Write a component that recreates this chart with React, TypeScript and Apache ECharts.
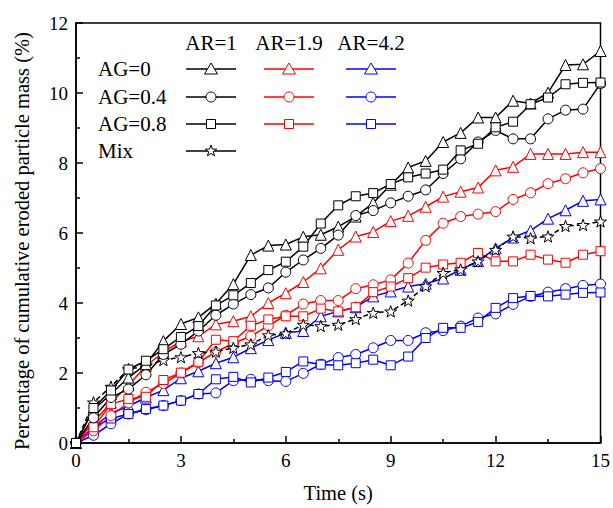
import React, { useEffect, useRef } from "react";
import * as echarts from "echarts";

const time = [0, 0.5, 1, 1.5, 2, 2.5, 3, 3.5, 4, 4.5, 5, 5.5, 6, 6.5, 7, 7.5, 8, 8.5, 9, 9.5, 10, 10.5, 11, 11.5, 12, 12.5, 13, 13.5, 14, 14.5, 15];

const ar1ag0 = [0, 0.95, 1.40, 1.87, 2.25, 2.91, 3.40, 3.59, 3.98, 4.54, 5.37, 5.64, 5.67, 5.89, 5.95, 6.18, 6.47, 6.86, 7.38, 7.87, 8.06, 8.60, 8.86, 9.30, 9.30, 9.78, 9.70, 10.01, 10.80, 10.82, 11.20];
const ar1ag04 = [0, 0.72, 1.30, 1.54, 1.95, 2.53, 2.82, 3.20, 3.65, 3.97, 4.24, 4.43, 4.88, 5.23, 5.56, 5.94, 6.50, 6.64, 6.86, 7.05, 7.23, 7.70, 8.12, 8.60, 8.93, 8.69, 8.69, 9.26, 9.51, 9.54, 10.27];
const ar1ag08 = [0, 1.0, 1.5, 2.1, 2.35, 2.68, 3.03, 3.34, 3.93, 4.22, 4.57, 4.94, 5.18, 5.61, 6.27, 6.79, 7.05, 7.14, 7.40, 7.59, 7.70, 7.81, 8.36, 8.55, 9.02, 9.18, 9.68, 9.87, 10.25, 10.29, 10.30];
const mix = [0, 1.16, 1.61, 2.11, 2.20, 2.37, 2.45, 2.57, 2.61, 2.72, 2.82, 3.08, 3.13, 3.38, 3.34, 3.38, 3.54, 3.72, 3.76, 4.07, 4.48, 4.86, 4.96, 5.19, 5.52, 5.90, 5.85, 5.90, 6.20, 6.23, 6.33];
const ar19ag0 = [0, 0.6, 1.15, 1.65, 2.2, 2.6, 2.9, 3.05, 3.39, 3.48, 3.62, 4.00, 4.28, 4.60, 4.99, 5.52, 5.90, 6.03, 6.34, 6.49, 6.75, 7.04, 7.18, 7.30, 7.79, 7.89, 8.26, 8.26, 8.26, 8.31, 8.31];
const ar19ag04 = [0, 0.35, 0.78, 1.15, 1.45, 1.7, 2.0, 2.3, 2.6, 2.85, 3.05, 3.35, 3.65, 3.97, 4.07, 4.07, 4.41, 4.52, 4.66, 5.14, 5.79, 6.28, 6.47, 6.54, 6.61, 6.96, 7.15, 7.41, 7.55, 7.72, 7.84];
const ar19ag08 = [0, 0.45, 1.11, 1.26, 1.32, 1.80, 2.01, 2.32, 2.95, 2.91, 3.35, 3.53, 3.62, 3.62, 3.84, 3.76, 3.88, 4.31, 4.47, 4.71, 5.01, 5.10, 5.15, 5.43, 5.19, 5.19, 5.38, 5.24, 5.15, 5.38, 5.48];
const ar42ag0 = [0, 0.45, 0.85, 1.05, 1.30, 1.51, 1.85, 2.05, 2.28, 2.45, 2.71, 2.94, 3.15, 3.20, 3.62, 3.76, 3.88, 4.19, 4.33, 4.47, 4.55, 4.70, 4.95, 5.20, 5.56, 5.87, 6.07, 6.41, 6.65, 6.92, 6.96];
const ar42ag04 = [0, 0.22, 0.55, 0.83, 0.95, 1.07, 1.21, 1.40, 1.43, 1.78, 1.82, 1.78, 1.76, 1.99, 2.25, 2.44, 2.53, 2.72, 2.93, 2.93, 3.15, 3.21, 3.34, 3.57, 3.69, 3.96, 4.19, 4.31, 4.41, 4.50, 4.54];
const ar42ag08 = [0, 0.45, 0.70, 0.83, 0.97, 1.07, 1.21, 1.40, 1.82, 1.89, 1.73, 1.87, 2.03, 2.33, 2.24, 2.22, 2.28, 2.38, 2.22, 2.47, 3.00, 3.29, 3.29, 3.46, 3.86, 4.14, 4.20, 4.19, 4.24, 4.29, 4.30];

const arLabels = ["AR=1", "AR=1.9", "AR=4.2"];
const agLabels = ["AG=0", "AG=0.4", "AG=0.8"];
const mixLabel = "Mix";

const FONT = '"Liberation Serif", "Times New Roman", serif';
const BLACK = "#000000";
const RED = "#ff0000";
const BLUE = "#0000ff";
const STAR = "path://M0,-10L2.35,-3.24L9.51,-3.09L3.8,1.24L5.88,8.09L0,4L-5.88,8.09L-3.8,1.24L-9.51,-3.09L-2.35,-3.24Z";

function pairs(vals: number[]) {
  return time.map((t, i) => [t, vals[i]]);
}

function mkSeries(name: string, vals: number[], color: string, symbol: string, size: number, dashed = false) {
  return {
    name,
    type: "line",
    data: pairs(vals),
    symbol,
    symbolSize: size,
    symbolKeepAspect: true,
    showAllSymbol: true,
    lineStyle: { color, width: 1.5, type: dashed ? [5, 3] : "solid" },
    itemStyle: { color: "#ffffff", borderColor: color, borderWidth: 1 },
    emphasis: { disabled: true },
    z: 3,
  };
}

function starPoints(cx: number, cy: number, r: number) {
  const pts: number[][] = [];
  for (let i = 0; i < 10; i++) {
    const rr = i % 2 === 0 ? r : r * 0.4;
    const a = -Math.PI / 2 + (i * Math.PI) / 5;
    pts.push([cx + rr * Math.cos(a), cy + rr * Math.sin(a)]);
  }
  return pts;
}

function marker(kind: string, cx: number, cy: number, color: string) {
  const style = { fill: "#ffffff", stroke: color, lineWidth: 1 };
  if (kind === "tri") return { type: "polygon", shape: { points: [[cx, cy - 6], [cx + 6.5, cy + 5], [cx - 6.5, cy + 5]] }, style, z: 10 };
  if (kind === "circ") return { type: "circle", shape: { cx, cy, r: 5 }, style, z: 10 };
  if (kind === "sq") return { type: "rect", shape: { x: cx - 4.5, y: cy - 4.5, width: 9, height: 9 }, style, z: 10 };
  return { type: "polygon", shape: { points: starPoints(cx, cy, 6) }, style, z: 10 };
}

function buildLegend() {
  const els: any[] = [];
  const colX = [211, 289, 371];
  const colColor = [BLACK, RED, BLUE];
  const rowY = [69, 97, 124];
  const kinds = ["tri", "circ", "sq"];
  arLabels.forEach((t, i) => {
    els.push({ type: "text", z: 10, style: { text: t, x: colX[i], y: 43, font: `21px ${FONT}`, fill: "#000", textAlign: "center", textVerticalAlign: "middle" } });
  });
  agLabels.forEach((t, r) => {
    els.push({ type: "text", z: 10, style: { text: t, x: 98, y: rowY[r], font: `21px ${FONT}`, fill: "#000", textAlign: "left", textVerticalAlign: "middle" } });
    colX.forEach((cx, c) => {
      els.push({ type: "line", z: 9, shape: { x1: cx - 25, y1: rowY[r], x2: cx + 25, y2: rowY[r] }, style: { stroke: colColor[c], lineWidth: 1.5 } });
      els.push(marker(kinds[r], cx, rowY[r], colColor[c]));
    });
  });
  els.push({ type: "text", z: 10, style: { text: mixLabel, x: 98, y: 151, font: `21px ${FONT}`, fill: "#000", textAlign: "left", textVerticalAlign: "middle" } });
  els.push({ type: "line", z: 9, shape: { x1: colX[0] - 25, y1: 151, x2: colX[0] + 25, y2: 151 }, style: { stroke: BLACK, lineWidth: 1.5 } });
  els.push(marker("star", colX[0], 151, BLACK));
  return els;
}

export default function App() {
  const ref = useRef<HTMLDivElement>(null);
  useEffect(() => {
    if (!ref.current) return;
    const chart = echarts.init(ref.current, undefined, { renderer: "svg" });
    const axisLabel = { color: "#000", fontFamily: FONT, fontSize: 19 };
    chart.setOption({
      animation: false,
      backgroundColor: "#ffffff",
      grid: { left: 76, right: 10, top: 23, bottom: 62, show: true, borderColor: "#000", borderWidth: 1.5, backgroundColor: "transparent" },
      xAxis: {
        type: "value",
        min: 0,
        max: 15,
        interval: 3,
        name: "Time (s)",
        nameLocation: "middle",
        nameGap: 39,
        nameTextStyle: { color: "#000", fontFamily: FONT, fontSize: 20.5 },
        axisLine: { lineStyle: { color: "#000", width: 1.5 } },
        axisTick: { inside: true, length: 7, lineStyle: { color: "#000", width: 1.5 } },
        minorTick: { show: true, splitNumber: 2, length: 4, lineStyle: { color: "#000", width: 1.5 } },
        splitLine: { show: false },
        axisLabel: { ...axisLabel, margin: 8 },
      },
      yAxis: {
        type: "value",
        min: 0,
        max: 12,
        interval: 2,
        name: "Percentage of cumulative eroded particle mass (%)",
        nameLocation: "middle",
        nameGap: 44,
        nameTextStyle: { color: "#000", fontFamily: FONT, fontSize: 20.5, padding: [0, 16, 0, 0] },
        axisLine: { lineStyle: { color: "#000", width: 1.5 } },
        axisTick: { inside: true, length: 7, lineStyle: { color: "#000", width: 1.5 } },
        minorTick: { show: true, splitNumber: 2, length: 4, lineStyle: { color: "#000", width: 1.5 } },
        splitLine: { show: false },
        axisLabel: { ...axisLabel, margin: 8 },
      },
      series: [
        mkSeries("AR=4.2 AG=0", ar42ag0, BLUE, "triangle", 11),
        mkSeries("AR=4.2 AG=0.4", ar42ag04, BLUE, "circle", 10),
        mkSeries("AR=4.2 AG=0.8", ar42ag08, BLUE, "rect", 9),
        mkSeries("AR=1.9 AG=0", ar19ag0, RED, "triangle", 11),
        mkSeries("AR=1.9 AG=0.4", ar19ag04, RED, "circle", 10),
        mkSeries("AR=1.9 AG=0.8", ar19ag08, RED, "rect", 9),
        mkSeries("Mix", mix, BLACK, STAR, 12, true),
        mkSeries("AR=1 AG=0", ar1ag0, BLACK, "triangle", 11),
        mkSeries("AR=1 AG=0.4", ar1ag04, BLACK, "circle", 10),
        mkSeries("AR=1 AG=0.8", ar1ag08, BLACK, "rect", 9),
      ],
      graphic: buildLegend(),
    });
    return () => chart.dispose();
  }, []);
  return <div ref={ref} style={{ position: "fixed", left: 0, top: 0, width: 613, height: 508, background: "#fff" }} />;
}
